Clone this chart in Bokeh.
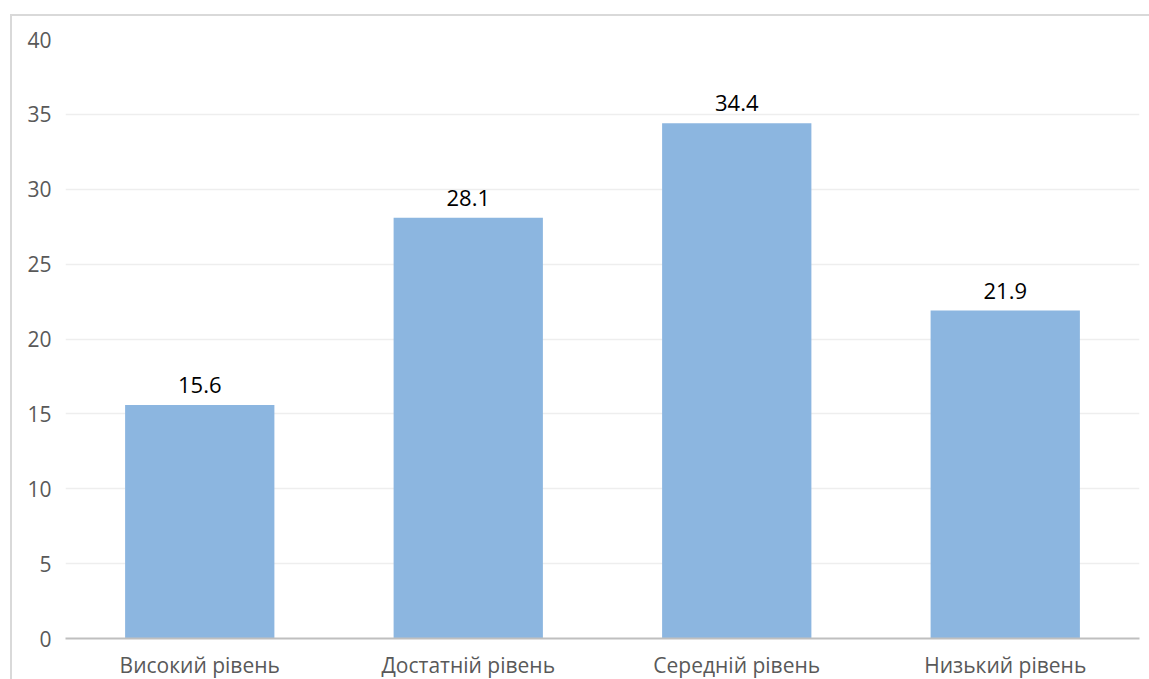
from bokeh.plotting import figure
from bokeh.models import ColumnDataSource, LabelSet, FixedTicker
from bokeh.core.properties import value
from bokeh.embed import file_html
from bokeh.resources import INLINE

categories = ["Високий рівень", "Достатній рівень", "Середній рівень", "Низький рівень"]
values = [15.6, 28.1, 34.4, 21.9]
value_labels = ["15.6", "28.1", "34.4", "21.9"]
y_ticks = [0, 5, 10, 15, 20, 25, 30, 35, 40]

src = ColumnDataSource(dict(cat=categories, val=values, lab=value_labels))

p = figure(x_range=categories, y_range=(0, 40), width=1139, height=665,
           output_backend="svg", toolbar_location=None,
           min_border_left=53, min_border_right=12, min_border_top=23, min_border_bottom=40,
           margin=(14, 0, 0, 10))
p.styles = {"border-left": "2px solid #d9d9d9", "border-top": "2px solid #d9d9d9"}
p.outline_line_color = None
p.background_fill_color = "white"

p.vbar(x="cat", top="val", width=0.556, source=src, color="#8cb6e0", line_color=None)

labels = LabelSet(x="cat", y="val", text="lab", source=src, text_align="center",
                  text_baseline="bottom", y_offset=12, text_font=value("Open Sans"),
                  text_font_size=value("22px"), text_color="#000000")
p.add_layout(labels)

p.yaxis.ticker = FixedTicker(ticks=y_ticks)
p.yaxis.axis_line_color = None
p.yaxis.major_tick_line_color = None
p.yaxis.minor_tick_line_color = None
p.yaxis.major_label_text_font = "Open Sans"
p.yaxis.major_label_text_font_size = "21px"
p.yaxis.major_label_text_color = "#595959"
p.yaxis.major_label_standoff = 8

p.xaxis.axis_line_color = "#bfbfbf"
p.xaxis.axis_line_width = 2
p.xaxis.major_tick_line_color = None
p.xaxis.minor_tick_line_color = None
p.xaxis.major_label_text_font = "Open Sans"
p.xaxis.major_label_text_font_size = "21px"
p.xaxis.major_label_text_color = "#595959"
p.xaxis.major_label_standoff = 6

p.xgrid.grid_line_color = None
p.ygrid.grid_line_color = "#eeeeee"
p.ygrid.grid_line_width = 1.5

open("out.html", "w").write(file_html(p, INLINE))
